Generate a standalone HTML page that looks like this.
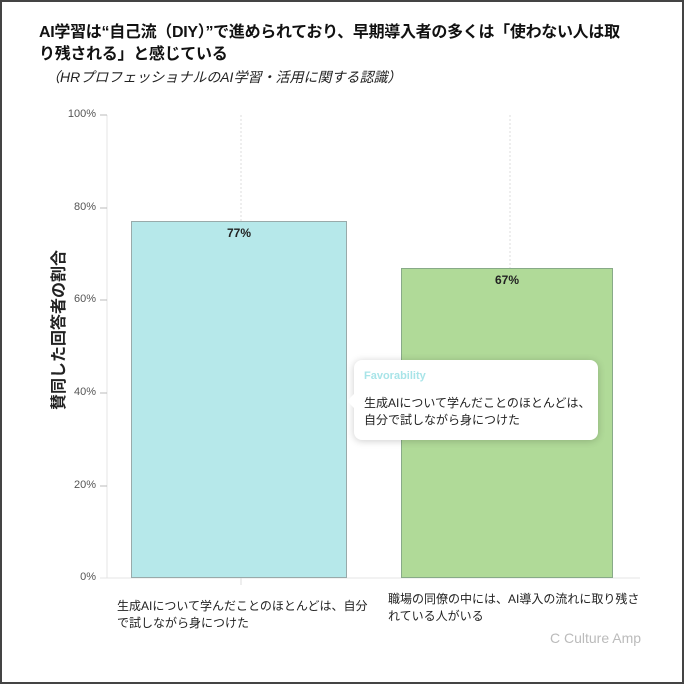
<!DOCTYPE html>
<html><head><meta charset="utf-8"><style>
body{margin:0;background:#fff;}
.f{position:absolute;left:0;top:0;width:680px;height:680px;border:2px solid #444;box-sizing:content-box;font-family:"Liberation Sans","Noto Sans CJK JP",sans-serif;overflow:hidden;}
.t{position:absolute;left:37px;top:20px;width:590px;font-size:16px;font-weight:bold;line-height:22px;color:#111;letter-spacing:-0.3px}
.s{position:absolute;left:44px;top:65px;font-size:14px;font-style:italic;color:#222}
.yl{position:absolute;font-size:11px;color:#555;right:586px;text-align:right}
.bar{position:absolute;box-sizing:border-box}
.v{position:absolute;font-size:12px;font-weight:bold;color:#222;text-align:center}
.x{position:absolute;font-size:12px;color:#222;line-height:17px}
</style></head><body><div class="f">
<div class="t">AI学習は“自己流（DIY）”で進められており、早期導入者の多くは「使わない人は取り残される」と感じている</div>
<div class="s">（HRプロフェッショナルのAI学習・活用に関する認識）</div>
<svg style="position:absolute;left:-2px;top:-2px" width="684" height="684">
<line x1="241" y1="115" x2="241" y2="578" stroke="#ddd" stroke-dasharray="2,2"/>
<line x1="510" y1="115" x2="510" y2="578" stroke="#ddd" stroke-dasharray="2,2"/>
<line x1="107" y1="115" x2="107" y2="578" stroke="#e4e4e4"/>
<g stroke="#bbb"><line x1="100" y1="115" x2="107" y2="115"/><line x1="100" y1="208" x2="107" y2="208"/><line x1="100" y1="300" x2="107" y2="300"/><line x1="100" y1="393" x2="107" y2="393"/><line x1="100" y1="486" x2="107" y2="486"/><line x1="100" y1="578" x2="107" y2="578"/></g>
<line x1="100" y1="578" x2="640" y2="578" stroke="#e4e4e4"/>
<line x1="241" y1="578" x2="241" y2="585" stroke="#ddd"/>
<text transform="translate(64,330) rotate(-90)" text-anchor="middle" font-size="16" font-weight="bold" fill="#222" font-family="Liberation Sans,Noto Sans CJK JP,sans-serif">賛同した回答者の割合</text>
</svg>
<div class="yl" style="top:106px">100%</div>
<div class="yl" style="top:199px">80%</div>
<div class="yl" style="top:291px">60%</div>
<div class="yl" style="top:384px">40%</div>
<div class="yl" style="top:477px">20%</div>
<div class="yl" style="top:569px">0%</div>
<div class="bar" style="left:129px;top:219px;width:216px;height:357px;background:#b6e8ea;border:1px solid #9aa"></div>
<div class="bar" style="left:399px;top:266px;width:212px;height:310px;background:#b0da98;border:1px solid #8a8"></div>
<div class="v" style="left:129px;width:216px;top:224px">77%</div>
<div class="v" style="left:399px;width:212px;top:271px">67%</div>
<div style="position:absolute;left:352px;top:358px;width:244px;height:80px;background:#fff;border-radius:8px;box-shadow:0 1px 8px rgba(0,0,0,0.2)"></div>
<div style="position:absolute;left:345px;top:391px;width:0;height:0;border-top:8px solid transparent;border-bottom:8px solid transparent;border-right:8px solid #fff"></div>
<div style="position:absolute;left:362px;top:368px;font-size:11px;font-weight:bold;color:#a8e4e8">Favorability</div>
<div class="x" style="left:362px;top:393px;font-size:12px">生成AIについて学んだことのほとんどは、<br>自分で試しながら身につけた</div>
<div class="x" style="left:115px;top:596px">生成AIについて学んだことのほとんどは、自分<br>で試しながら身につけた</div>
<div class="x" style="left:386px;top:589px">職場の同僚の中には、AI導入の流れに取り残さ<br>れている人がいる</div>
<div style="position:absolute;left:548px;top:628px;font-size:14px;color:#bbb">C Culture Amp</div>
</div></body></html>
